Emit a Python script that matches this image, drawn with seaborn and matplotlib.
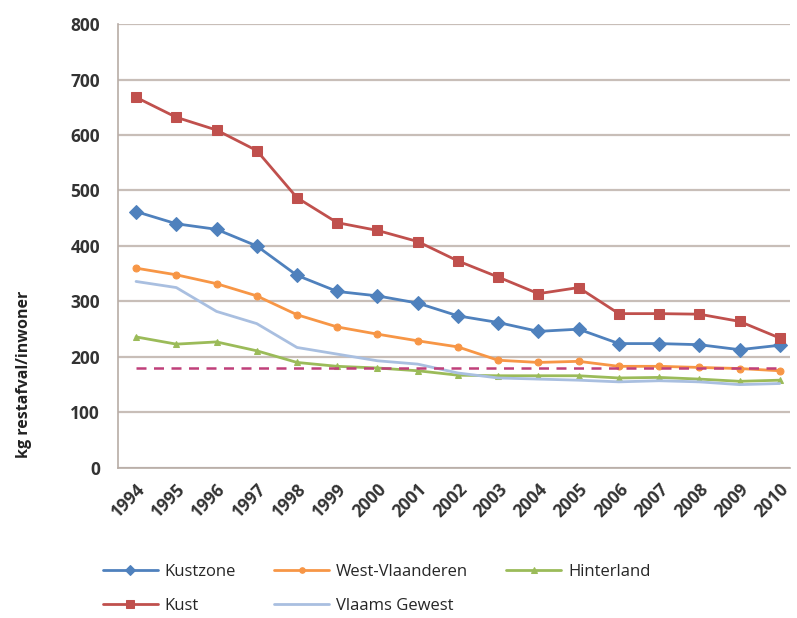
import numpy as np
import pandas as pd
import seaborn as sns
import matplotlib.pyplot as plt

# waarden
jaren = [str(j) for j in range(1994, 2011)]
kustzone = [462, 440, 430, 400, 347, 318, 310, 297, 274, 262, 246, 250, 224, 224, 222, 213, 221]
west_vl = [360, 348, 332, 310, 276, 254, 241, 229, 218, 194, 190, 192, 183, 183, 181, 179, 175]
hinterland = [236, 223, 227, 211, 190, 183, 180, 175, 167, 166, 166, 166, 162, 163, 160, 156, 158]
kust = [668, 632, 609, 572, 487, 442, 428, 408, 373, 344, 314, 325, 278, 278, 277, 264, 234]
vlaams = [336, 325, 282, 260, 217, 205, 193, 187, 171, 162, 160, 158, 155, 157, 155, 150, 152]
doel = [180] * len(jaren)

series = {'Kustzone': kustzone, 'West-Vlaanderen': west_vl, 'Hinterland': hinterland,
          'Kust': kust, 'Vlaams Gewest': vlaams}
stijl = {'Kustzone': ('#4F81BD', 'D', 7),
         'West-Vlaanderen': ('#F79646', 'o', 5),
         'Hinterland': ('#9BBB59', '^', 5),
         'Kust': ('#C0504D', 's', 7),
         'Vlaams Gewest': ('#A9BFE0', '', 0)}

sns.set_style('white')
plt.rcParams['font.family'] = ['Open Sans', 'DejaVu Sans']

fig = plt.figure(figsize=(7.97, 6.18), dpi=100)
ax = fig.add_axes([0.148, 0.243, 0.843, 0.718])

x = np.arange(len(jaren))
for naam, waarden in series.items():
    kleur, mk, ms = stijl[naam]
    df = pd.DataFrame({'x': x, 'y': waarden})
    sns.lineplot(data=df, x='x', y='y', ax=ax, color=kleur, marker=mk if mk else None,
                 markersize=ms, markeredgecolor=kleur, linewidth=2, label=naam)
sns.lineplot(x=x, y=doel, ax=ax, color='#C0407A', linewidth=1.8, legend=False)
ax.lines[-1].set_linestyle((0, (4, 3)))

ax.set_xlim(-0.45, 16.25)
ax.set_ylim(0, 800)
ax.set_yticks(range(0, 801, 100))
ax.set_xticks(x)
ax.set_xticklabels(jaren, rotation=45, ha='right', rotation_mode='anchor',
                   fontsize=12.5, fontweight='bold', color='#333333')
for t in ax.get_yticklabels():
    t.set_fontsize(12.5)
    t.set_fontweight('bold')
    t.set_color('#333333')
ax.grid(axis='y', color='#C8BEB8', linewidth=1.6)
ax.set_axisbelow(True)
for s in ['top', 'right']:
    ax.spines[s].set_visible(False)
for s in ['left', 'bottom']:
    ax.spines[s].set_color('#B8ADA6')
    ax.spines[s].set_linewidth(1.2)
ax.tick_params(axis='y', direction='out', length=5, color='#B8ADA6', width=1, pad=8)
ax.tick_params(axis='x', direction='out', length=5, color='#B8ADA6', width=1, pad=4)
ax.set_xlabel('')
ax.set_ylabel('kg restafval/inwoner', fontsize=11.5, fontweight='bold', color='#222222')
ax.yaxis.set_label_coords(-0.128, 0.21)

h, l = ax.get_legend_handles_labels()
volg = ['Kustzone', 'Kust', 'West-Vlaanderen', 'Vlaams Gewest', 'Hinterland']
hl = dict(zip(l, h))
ax.legend([hl[n] for n in volg], volg, ncol=3, frameon=False,
          loc='upper left', bbox_to_anchor=(-0.045, -0.183), handlelength=3.3,
          handletextpad=0.4, columnspacing=2.3, labelspacing=1.05, fontsize=12,
          markerscale=0.8)

fig.savefig('out.png', dpi=100)
